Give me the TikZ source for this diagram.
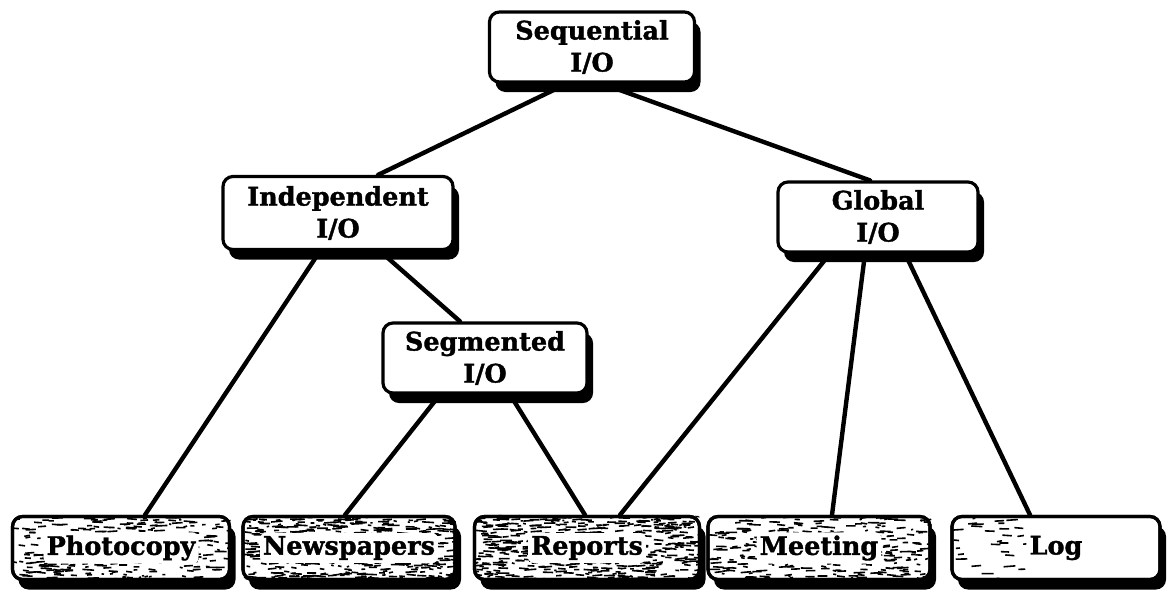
\documentclass[tikz,border=0pt]{standalone}
\usepackage{fontspec}
\setmainfont{DejaVu Serif}[BoldFeatures={FakeBold=1.4}]
\usetikzlibrary{shadows,backgrounds}

\tikzset{
  boxfont/.style={font=\fontsize{25.5}{32}\selectfont\bfseries},
  box/.style={draw, line width=3.2pt, rounded corners=10pt, fill=white,
    align=center, inner sep=2pt, boxfont,
    drop shadow={shadow xshift=6pt, shadow yshift=-10pt, fill=black, opacity=1}},
  topbox/.style={box, minimum height=70pt},
  leafbase/.style={box, minimum height=63pt},
  leafrim/.style={draw, line width=3.2pt, rounded corners=10pt,
    inner sep=2pt, minimum height=63pt},
  leaftext/.style={inner sep=3pt, boxfont},
  link/.style={line width=4.4pt, line cap=round},
  speck/.style={line width=1.6pt}
}

% random short strokes inside a rectangle: left, top, width, height, count
\newcommand\speckfill[5]{%
  \foreach \k in {1,...,#5}{%
    \pgfmathsetmacro\sx{#1+rnd*#3}%
    \pgfmathsetmacro\sy{#2+rnd*#4}%
    \pgfmathsetmacro\sl{2+rnd*10}%
    \pgfmathsetmacro\sd{rnd*2-1}%
    \draw[speck] (\sx,\sy) -- ++(\sl,\sd);
  }}

% a leaf box with a grainy fill, kept clear round its label:
% name, x, y, width, label, stroke count, grain width
\newcommand\leafnode[7]{%
  \node[leafbase, minimum width=#4pt] (#1) at (#2,#3) {};
  \node[leaftext] (#1-label) at (#2,#3) {#5};
  \begin{scope}[even odd rule, rounded corners=6pt]
    \clip (#1.north west) rectangle (#1.south east)
      (#1-label.north west) rectangle (#1-label.south east);
    \pgfmathsetmacro\lx{#2-#4/2}%
    \pgfmathsetmacro\ty{#3-32}%
    \speckfill{\lx}{\ty}{#7}{64}{#6}
  \end{scope}
  \node[leafrim, minimum width=#4pt] at (#2,#3) {};
}

\begin{document}
\begin{tikzpicture}[x=1pt, y=-1pt]
  \useasboundingbox (0,0) rectangle (1169,595);
  \pgfmathsetseed{7}

  % upper levels
  \node[topbox, minimum width=205pt] (seq) at (592,47) {Sequential\\I/O};
  \node[topbox, minimum width=230pt, minimum height=73pt] (ind) at (338,213) {Independent\\I/O};
  \node[topbox, minimum width=200pt] (glob) at (878,217) {Global\\I/O};
  \node[topbox, minimum width=204pt] (seg) at (485,358) {Segmented\\I/O};

  % leaves
  \leafnode{photo}{121}{548}{217}{Photocopy}{300}{217}
  \leafnode{news}{349}{548}{212}{Newspapers}{520}{212}
  \leafnode{rep}{587}{548}{225}{Reports}{560}{225}
  \leafnode{meet}{819}{548}{222}{Meeting}{300}{222}
  \leafnode{log}{1056}{548}{208}{Log}{30}{75}

  % connectors, kept underneath the boxes
  \begin{pgfonlayer}{background}
    \draw[link] ([xshift=-25pt]seq.south) -- ([xshift=40pt]ind.north);
    \draw[link] ([xshift=10pt]seq.south) -- ([xshift=-8pt]glob.north);
    \draw[link] ([xshift=-18pt]ind.south) -- ([xshift=24pt]photo.north);
    \draw[link] ([xshift=42pt]ind.south) -- ([xshift=-25pt]seg.north);
    \draw[link] ([xshift=-45pt]seg.south) -- ([xshift=-4pt]news.north);
    \draw[link] ([xshift=25pt]seg.south) -- ([xshift=-2pt]rep.north);
    \draw[link] ([xshift=-48pt]glob.south) -- ([xshift=33pt]rep.north);
    \draw[link] ([xshift=-13pt]glob.south) -- ([xshift=13pt]meet.north);
    \draw[link] ([xshift=27pt]glob.south) -- ([xshift=-26pt]log.north);
  \end{pgfonlayer}
\end{tikzpicture}
\end{document}
